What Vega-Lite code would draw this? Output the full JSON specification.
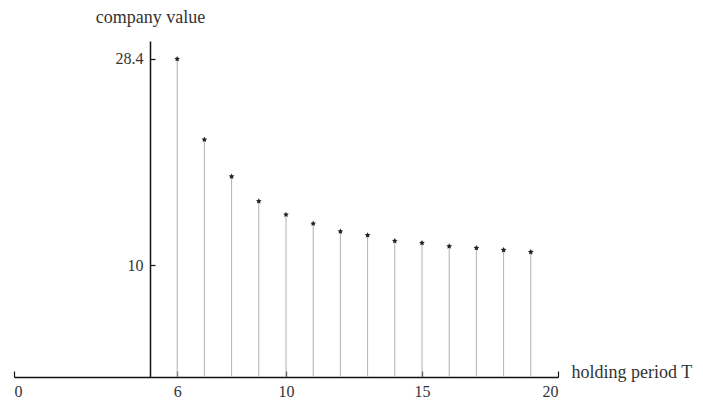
{
  "$schema": "https://vega.github.io/schema/vega-lite/v6.json",
  "autosize": "none",
  "width": 544,
  "height": 336,
  "padding": {"left": 14, "top": 41, "right": 145, "bottom": 26},
  "background": "white",
  "config": {
    "view": {"stroke": null},
    "font": "Liberation Serif",
    "axis": {"grid": false, "domainColor": "#111", "tickColor": "#111", "labelColor": "#333", "titleColor": "#333", "labelFont": "Liberation Serif", "titleFont": "Liberation Serif", "titleFontWeight": "normal", "labelFontSize": 16, "titleFontSize": 18}
  },
  "data": {
    "values": [
      {"T": 6, "value": 28.4},
      {"T": 7, "value": 21.2},
      {"T": 8, "value": 17.9},
      {"T": 9, "value": 15.7},
      {"T": 10, "value": 14.5},
      {"T": 11, "value": 13.7},
      {"T": 12, "value": 13.0},
      {"T": 13, "value": 12.66},
      {"T": 14, "value": 12.15},
      {"T": 15, "value": 11.97},
      {"T": 16, "value": 11.67},
      {"T": 17, "value": 11.52},
      {"T": 18, "value": 11.34},
      {"T": 19, "value": 11.16}
    ]
  },
  "encoding": {
    "x": {
      "field": "T", "type": "quantitative",
      "scale": {"domain": [0, 20], "nice": false, "zero": false},
      "axis": {
        "values": [0, 6, 10, 15, 20], "tickSize": -6, "labelPadding": 12,
        "domainWidth": 1.5, "tickWidth": 1.2,
        "title": "holding period T", "titleAlign": "left", "titleAnchor": "start",
        "titleX": 557, "titleY": -5, "titleBaseline": "middle", "titlePadding": 0, "titleFontSize": 18
      }
    },
    "y": {
      "field": "value", "type": "quantitative",
      "scale": {"domain": [0, 30], "nice": false},
      "axis": {
        "values": [10, 28.4], "format": ".1~f", "tickSize": -5, "labelPadding": 12,
        "offset": -136, "domainWidth": 1.5, "tickWidth": 1.2,
        "title": "company value", "titleAngle": 0, "titleX": 0, "titleY": -24,
        "titleAlign": "center", "titleBaseline": "middle", "titleFontSize": 18
      }
    }
  },
  "layer": [
    {"mark": {"type": "rule", "color": "#b0b0b0", "strokeWidth": 1}, "encoding": {"y2": {"datum": 0}}},
    {"mark": {"type": "point", "shape": "M0,-1L0.29,-0.4L0.95,-0.31L0.47,0.15L0.59,0.81L0,0.5L-0.59,0.81L-0.47,0.15L-0.95,-0.31L-0.29,-0.4Z", "filled": true, "color": "#222", "size": 35, "opacity": 1}}
  ]
}
